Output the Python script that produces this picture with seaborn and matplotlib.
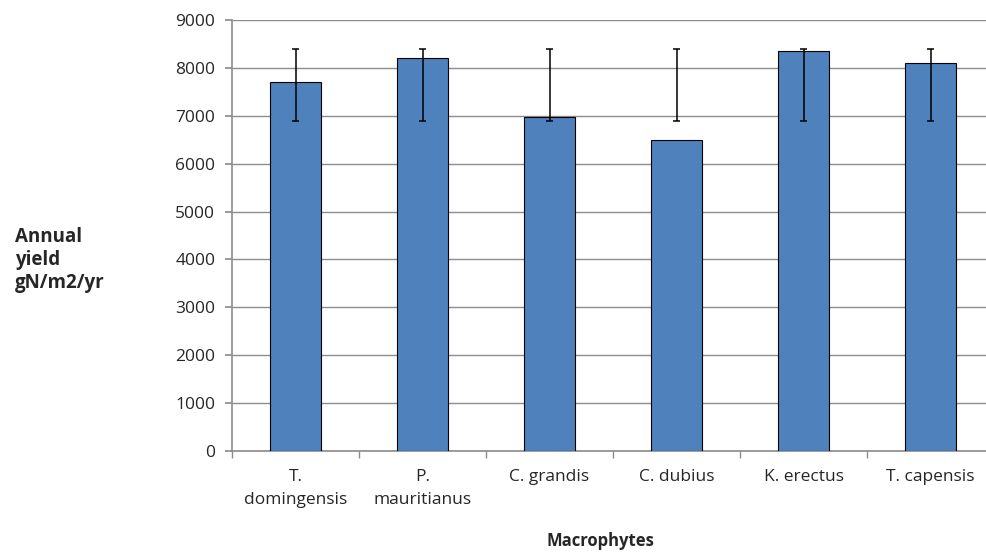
import matplotlib
matplotlib.use("Agg")
import matplotlib.pyplot as plt
import numpy as np
import pandas as pd
import seaborn as sns

species = ["T.\ndomingensis", "P.\nmauritianus", "C. grandis", "C. dubius", "K. erectus", "T. capensis"]
annual_yield = [7700, 8200, 6970, 6500, 8350, 8100]
err_low = [6900, 6900, 6900, 6900, 6900, 6900]
err_high = [8400, 8400, 8400, 8400, 8400, 8400]
y_ticks = [0, 1000, 2000, 3000, 4000, 5000, 6000, 7000, 8000, 9000]

sns.set_theme(style="white")
plt.rcParams["font.family"] = ["Open Sans", "DejaVu Sans"]

df = pd.DataFrame({"species": species, "yield": annual_yield})

fig = plt.figure(figsize=(9.86, 5.52), dpi=100)
ax = fig.add_axes([232 / 986, 1 - 451 / 552, 762 / 986, 431 / 552])

sns.barplot(data=df, x="species", y="yield", color="#4F81BD", width=0.4,
            edgecolor="black", linewidth=0.8, saturation=1, ax=ax, zorder=3)

pos = np.arange(len(species))
ax.vlines(pos, err_low, err_high, color="black", linewidth=1.1, zorder=4)
ax.hlines(err_low, pos - 0.03, pos + 0.03, color="black", linewidth=1.1, zorder=4)
ax.hlines(err_high, pos - 0.03, pos + 0.03, color="black", linewidth=1.1, zorder=4)

ax.set_xlim(-0.5, len(species) - 0.5)
ax.set_ylim(0, 9000)
ax.set_yticks(y_ticks)
ax.set_yticklabels([str(t) for t in y_ticks], fontsize=12.5)
ax.yaxis.grid(True, color="#8c8c8c", linewidth=1.0, zorder=0)
ax.set_axisbelow(True)

ax.set_xticks(pos)
ax.set_xticklabels(species, fontsize=12.5, linespacing=1.6, va="top")
ax.set_xticks(np.arange(len(species) + 1) - 0.5, minor=True)
ax.tick_params(axis="x", which="major", length=0, pad=13)
ax.tick_params(axis="x", which="minor", length=5, color="#8c8c8c", direction="out", bottom=True)
ax.tick_params(axis="y", length=5, color="#8c8c8c", direction="out", left=True, pad=7)

for side in ["top", "right"]:
    ax.spines[side].set_visible(False)
for side in ["left", "bottom"]:
    ax.spines[side].set_color("#8c8c8c")
    ax.spines[side].set_linewidth(1.2)

ax.set_xlabel("")
ax.set_ylabel("")
fig.text(600 / 986, 1 - 541 / 552, "Macrophytes", ha="center", va="center",
         fontsize=12, fontweight="bold")
fig.text(15 / 986, 1 - 260 / 552, "Annual\nyield\ngN/m2/yr", ha="left", va="center",
         fontsize=13.5, fontweight="bold", linespacing=1.2)

fig.savefig("out.png", dpi=100)
